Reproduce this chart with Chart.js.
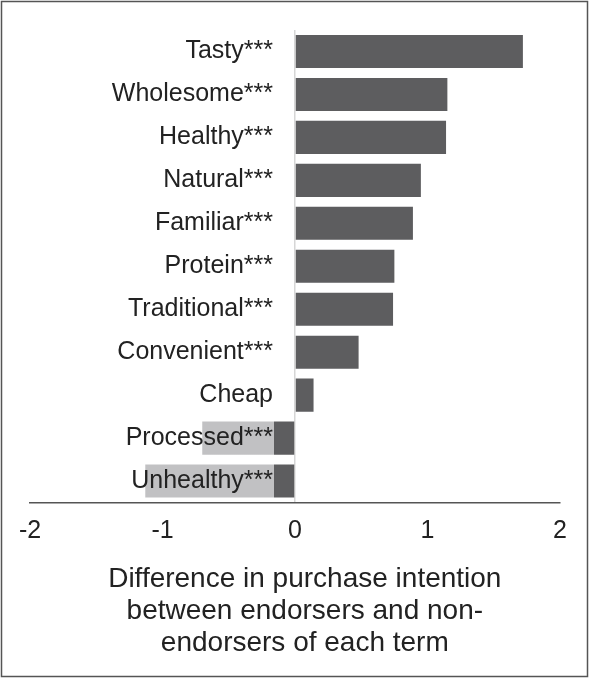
<!DOCTYPE html>
<html>
<head>
<meta charset="utf-8">
<script src="https://cdn.jsdelivr.net/npm/chart.js@4/dist/chart.umd.min.js"></script>
<style>
  html, body { margin: 0; padding: 0; background: #ffffff; }
  #wrap { width: 590px; height: 678px; position: relative; }
</style>
</head>
<body>
<div id="wrap"><canvas id="c" width="590" height="678"></canvas></div>
<script>
const categories = ['Tasty***', 'Wholesome***', 'Healthy***', 'Natural***', 'Familiar***', 'Protein***', 'Traditional***', 'Convenient***', 'Cheap', 'Processed***', 'Unhealthy***'];
const differences = [1.72, 1.15, 1.14, 0.95, 0.89, 0.75, 0.74, 0.48, 0.14, -0.70, -1.13];
const xTickValues = [-2, -1, 0, 1, 2];
const axisTitleLines = ['\u2002\u2009Difference in purchase intention', '\u2002\u2009between endorsers and non-', '\u2002\u2009endorsers of each term'];

const DARK = '#5d5d5f';
const LIGHT = '#c1c1c3';
const TEXT = '#222222';
const FAMILY = 'Liberation Sans, Arial, sans-serif';
const LABEL_SIZE = 25;
const LABEL_GAP = 22;       // gap between label end and zero line
const PAD_LEFT = 30, PAD_RIGHT = 30;
const CANVAS_W = 590;

// measure widest category label to place labels just left of zero
const mctx = document.createElement('canvas').getContext('2d');
mctx.font = LABEL_SIZE + 'px ' + FAMILY;
const widest = Math.max(...categories.map(c => mctx.measureText(c).width));
const zeroPx = PAD_LEFT + (CANVAS_W - PAD_LEFT - PAD_RIGHT) / 2;
const labelPadding = Math.max(0, zeroPx - LABEL_GAP - PAD_LEFT - widest);

const framePlugin = {
  id: 'frame',
  afterDraw(chart) {
    const ctx = chart.ctx;
    ctx.save();
    ctx.strokeStyle = '#555555';
    ctx.lineWidth = 1.5;
    ctx.strokeRect(1.5, 1.5, 586, 675);
    ctx.restore();
  }
};

function barColor(ctx) {
  const v = ctx.raw;
  const chart = ctx.chart;
  const xs = chart.scales && chart.scales.x;
  if (v >= 0 || !xs) return DARK;
  const z = xs.getPixelForValue(0);
  const e = z - LABEL_GAP + 1;
  const g = chart.ctx.createLinearGradient(e - 0.5, 0, e + 0.5, 0);
  g.addColorStop(0, LIGHT);
  g.addColorStop(1, DARK);
  return g;
}

new Chart(document.getElementById('c'), {
  type: 'bar',
  data: {
    labels: categories,
    datasets: [{
      data: differences,
      backgroundColor: barColor,
      borderWidth: 0,
      barPercentage: 0.77,
      categoryPercentage: 1.0
    }]
  },
  options: {
    indexAxis: 'y',
    responsive: false,
    animation: false,
    layout: { padding: { top: 30, left: PAD_LEFT, right: PAD_RIGHT, bottom: 18 } },
    plugins: { legend: { display: false }, tooltip: { enabled: false } },
    scales: {
      x: {
        type: 'linear',
        position: 'bottom',
        min: -2,
        max: 2,
        afterBuildTicks(scale) { scale.ticks = xTickValues.map(v => ({ value: v })); },
        ticks: {
          font: { family: FAMILY, size: 25 },
          color: TEXT,
          padding: 14,
          callback: (v) => String(v)
        },
        grid: {
          display: true,
          drawTicks: false,
          lineWidth: 1.5,
          color: (c) => (c.tick && c.tick.value === 0) ? '#d6d6d6' : 'rgba(0,0,0,0)'
        },
        border: { display: true, color: '#555555', width: 1.5 },
        title: {
          display: true,
          text: axisTitleLines,
          color: TEXT,
          font: { family: FAMILY, size: 28, lineHeight: 1.16 },
          padding: { top: 2, bottom: 0 }
        }
      },
      y: {
        type: 'category',
        position: 'left',
        afterFit(scale) {
          scale.width = 0;
          scale.paddingTop = 0; scale.paddingBottom = 0;
          scale.paddingLeft = 0; scale.paddingRight = 0;
        },
        ticks: {
          font: { family: FAMILY, size: LABEL_SIZE },
          color: TEXT,
          mirror: true,
          crossAlign: 'far',
          padding: labelPadding,
          z: 1
        },
        grid: { display: false, drawTicks: false },
        border: { display: false }
      }
    }
  },
  plugins: [framePlugin]
});
</script>
</body>
</html>
